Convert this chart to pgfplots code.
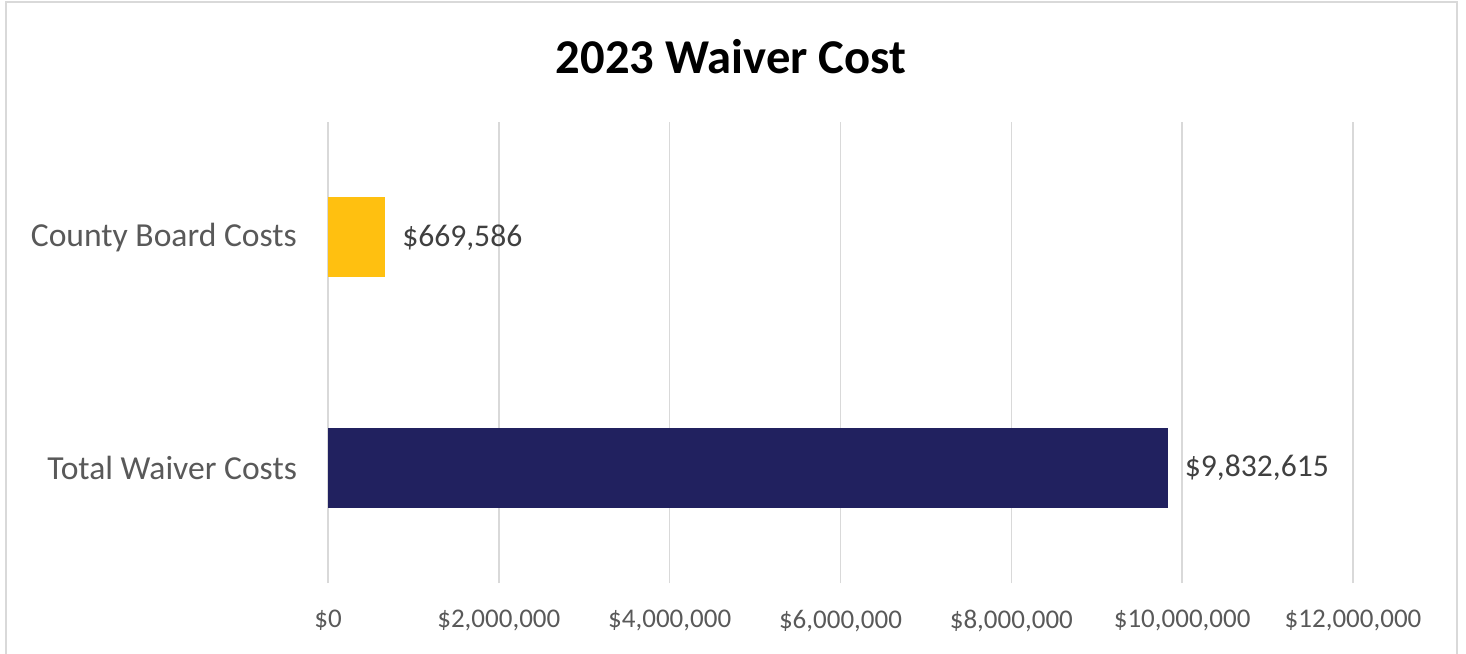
\documentclass[border=0pt]{standalone}
\usepackage{pgfplots}
\pgfplotsset{compat=1.18}
\usepackage{fontspec}
\setmainfont{Carlito}
\definecolor{gold}{HTML}{FFC010}
\definecolor{navy}{HTML}{21215F}
\definecolor{gridc}{HTML}{D9D9D9}
\definecolor{txt}{HTML}{595959}
\definecolor{frame}{HTML}{D9D9D9}
\begin{document}
% 1 px of the reference = 0.5pt
\begin{tikzpicture}
\clip (0pt,0pt) rectangle (733pt,326.5pt);
\draw[frame,line width=1pt] (3pt,-5pt) -- (3pt,325.5pt) -- (728.5pt,325.5pt) -- (728.5pt,-5pt);
\node[font=\fontsize{24.3}{28}\selectfont\bfseries] at (365.5pt,298pt) {2023 Waiver Cost};
\begin{axis}[
  at={(164pt,35pt)}, anchor=south west,
  scale only axis, width=512.5pt, height=230.5pt,
  xbar, bar width=40pt, bar shift=0pt,
  xmin=0, xmax=12000000, ymin=-0.5, ymax=1.5,
  axis line style={draw=none},
  xmajorgrids, grid style={gridc,line width=0.75pt},
  major tick length=0pt,
  xtick={0,2000000,4000000,6000000,8000000,10000000,12000000},
  xticklabels={{\$0},{\$2,000,000},{\$4,000,000},{\$6,000,000},{\$8,000,000},{\$10,000,000},{\$12,000,000}},
  ytick={0,1},
  yticklabels={Total Waiver Costs,County Board Costs},
  x tick label style={font=\fontsize{13.5}{16}\selectfont,text=txt,yshift=-10pt},
  y tick label style={font=\fontsize{16.8}{20}\selectfont,text=txt,xshift=-12pt},
  point meta=explicit symbolic,
  nodes near coords={\pgfplotspointmeta},
  every node near coord/.append style={anchor=west,font=\fontsize{15.8}{19}\selectfont,text=black!75,xshift=5pt},
  clip=false,
]
\addplot[draw=none,fill=gold] coordinates {(669586,1) [\$669,586]};
\addplot[draw=none,fill=navy] coordinates {(9832615,0) [\$9,832,615]};
\end{axis}
\end{tikzpicture}
\end{document}
